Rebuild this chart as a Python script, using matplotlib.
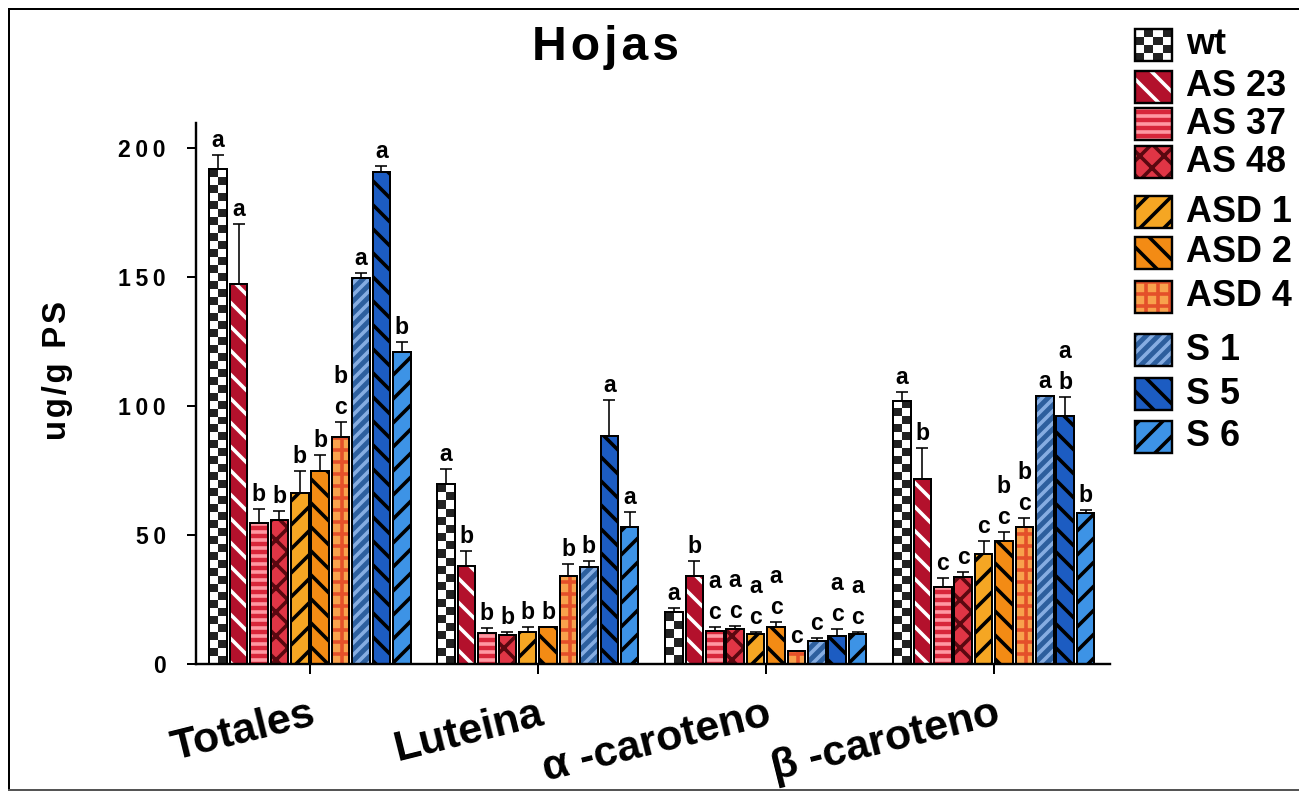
import numpy as np
import matplotlib
matplotlib.use("Agg")
import matplotlib.pyplot as plt
from matplotlib.patches import Rectangle
from matplotlib.colors import ListedColormap
from matplotlib.transforms import ScaledTranslation

plt.rcParams['font.family'] = ['Liberation Sans', 'DejaVu Sans']
plt.rcParams['font.weight'] = 'bold'
plt.rcParams['hatch.linewidth'] = 1.8

groups = ['Totales', 'Luteina', 'α -caroteno', 'β -caroteno']
lines = ['wt', 'AS 23', 'AS 37', 'AS 48', 'ASD 1', 'ASD 2', 'ASD 4', 'S 1', 'S 5', 'S 6']

totales = [191.5, 147.0, 54.7, 55.8, 66.4, 74.6, 87.8, 149.6, 190.7, 120.8]
totales_err = [5.5, 23.5, 5.2, 3.4, 8.4, 6.4, 6.1, 1.9, 2.2, 3.7]
luteina = [69.6, 38.1, 11.9, 11.1, 12.5, 14.2, 34.1, 37.7, 88.4, 53.2]
luteina_err = [5.9, 5.8, 2.2, 1.2, 2.0, 0.3, 4.7, 2.2, 13.9, 5.8]
alfa = [20.0, 34.1, 12.8, 13.6, 11.5, 14.5, 5.0, 8.9, 11.0, 11.6]
alfa_err = [1.6, 5.9, 1.5, 1.2, 1.0, 1.9, 0.0, 1.3, 2.6, 0.9]
beta = [102.0, 71.7, 30.0, 33.6, 42.5, 47.8, 53.0, 103.6, 96.2, 58.4]
beta_err = [3.3, 11.9, 3.2, 2.2, 5.2, 3.5, 3.5, 0.0, 7.2, 1.4]

# letters stacked top -> bottom
totales_let = ['a', 'a', 'b', 'b', 'b', 'b', 'bc', 'a', 'a', 'b']
luteina_let = ['a', 'b', 'b', 'b', 'b', 'b', 'b', 'b', 'a', 'a']
alfa_let = ['a', 'b', 'ac', 'ac', 'ac', 'ac', 'c', 'c', 'ac', 'ac']
beta_let = ['a', 'b', 'c', 'c', 'c', 'bc', 'bc', 'a', 'ab', 'b']

yticks = [0, 50, 100, 150, 200]

values = [totales, luteina, alfa, beta]
errors = [totales_err, luteina_err, alfa_err, beta_err]
letters = [totales_let, luteina_let, alfa_let, beta_let]

faces = ['white', '#b3112c', '#d8263a', '#e03545', '#f5a623', '#f38b14', '#f8a24c', '#2d5f9e', '#1c5cc2', '#3d93e6']
hatches = [None, '\\\\', '---', 'xx', '//', '\\\\', '++', '////', '\\\\', '//']
hatch_cols = [None, 'white', '#ff98a2', '#5a0810', 'black', 'black', '#e4502a', '#86ade2', 'black', 'black']
checker_cmap = ListedColormap(['white', '#222222'])


def spaced(s, sep='\u200a'):
    # wide letter spacing like the original export
    return sep.join(s)


DPI = 144
fig = plt.figure(figsize=(1299 / DPI, 793 / DPI), dpi=DPI)

# overlay in pixel coordinates for frame, title, legend
ov = fig.add_axes([0, 0, 1, 1])
ov.axis('off')

ax = fig.add_axes([196 / 1299, 129 / 793, 914 / 1299, 541 / 793])


def draw_bar(a, x, y0, h, w, k, cell):
    if k == 0:
        a.bar(x, h, w, bottom=y0, color='white', linewidth=0, zorder=2)
        nr = max(2, int(round(h / cell[1])))
        nc = cell[0]
        chk = np.add.outer(np.arange(nr), np.arange(nc)) % 2
        a.imshow(chk, cmap=checker_cmap, extent=(x - w / 2, x + w / 2, y0, y0 + h),
                 aspect='auto', interpolation='nearest', origin='lower', zorder=2.1)
    else:
        a.bar(x, h, w, bottom=y0, color=faces[k], edgecolor=hatch_cols[k], hatch=hatches[k],
              linewidth=0, zorder=2)
    a.bar(x, h, w, bottom=y0, fill=False, edgecolor='black', linewidth=1.0, zorder=3)


pitch = 0.0895
bw = 0.077
for g in range(len(groups)):
    xs = g + (np.arange(len(lines)) - 4.5) * pitch
    for k in range(len(lines)):
        draw_bar(ax, xs[k], 0, values[g][k], bw, k, (2, 3.1))
    err = np.array(errors[g])
    ax.errorbar(xs, values[g], yerr=[np.zeros(len(err)), err], fmt='none', ecolor='black',
                elinewidth=0.8, capsize=3, capthick=0.8, zorder=4)
    for k in range(len(lines)):
        top = values[g][k] + errors[g][k]
        for j, ch in enumerate(reversed(letters[g][k])):
            ax.annotate(ch, (xs[k], top), xytext=(0, 4 + j * 15.5), textcoords='offset points',
                        ha='center', va='baseline', fontsize=11.5, fontweight='bold')

ax.set_xlim(-0.5, 3.51)
ax.set_ylim(0, 209.5)
ax.set_yticks(yticks)
ax.set_yticklabels([spaced(str(t), '\u2009') for t in yticks])
ax.set_xticks(range(len(groups)))
ax.set_xticklabels(groups, rotation=14, ha='right', va='top', rotation_mode='anchor',
                   fontsize=21.5, fontweight='bold')
for lab in ax.get_xticklabels():
    lab.set_transform(lab.get_transform() + ScaledTranslation(8 / DPI, 0, fig.dpi_scale_trans))
ax.tick_params(axis='y', direction='out', length=4.5, width=1, pad=10.5, labelsize=11.5)
ax.tick_params(axis='x', direction='out', length=5, width=1, pad=10)
for s in ['top', 'right']:
    ax.spines[s].set_visible(False)
for s in ['left', 'bottom']:
    ax.spines[s].set_linewidth(1.2)

# frame
ov.plot([9, 1299], [9, 9], color='black', lw=1.0)
ov.plot([9, 9], [9, 790], color='black', lw=1.0)
ov.plot([9, 1299], [790, 790], color='#555555', lw=1.0)

ov.text(606, 47, spaced('Hojas'), ha='center', va='center', fontsize=24, fontweight='bold')
ov.text(58, 370, spaced('ug/g PS'), ha='center', va='center', rotation=90, fontsize=16.5,
        fontweight='bold')

# legend
leg_y = [45, 87, 124, 162, 212, 253, 297, 350, 394, 437]
for k, name in enumerate(lines):
    yc = leg_y[k]
    x0, x1, y0, y1 = 1135, 1172, yc - 16, yc + 16
    if k == 0:
        ov.add_patch(Rectangle((x0, y0), x1 - x0, y1 - y0, facecolor='white', linewidth=0))
        chk = np.add.outer(np.arange(4), np.arange(4)) % 2
        ov.imshow(chk, cmap=checker_cmap, extent=(x0, x1, y1, y0), aspect='auto',
                  interpolation='nearest', zorder=2.1)
    else:
        ov.add_patch(Rectangle((x0, y0), x1 - x0, y1 - y0, facecolor=faces[k],
                               edgecolor=hatch_cols[k], hatch=hatches[k], linewidth=0))
    ov.add_patch(Rectangle((x0, y0), x1 - x0, y1 - y0, fill=False, edgecolor='black',
                           linewidth=1.2, zorder=3))
    ov.text(1186, yc, name, ha='left', va='center', fontsize=18, fontweight='bold')
ov.set_xlim(0, 1299)
ov.set_ylim(793, 0)

fig.savefig('out.png', dpi=DPI)
